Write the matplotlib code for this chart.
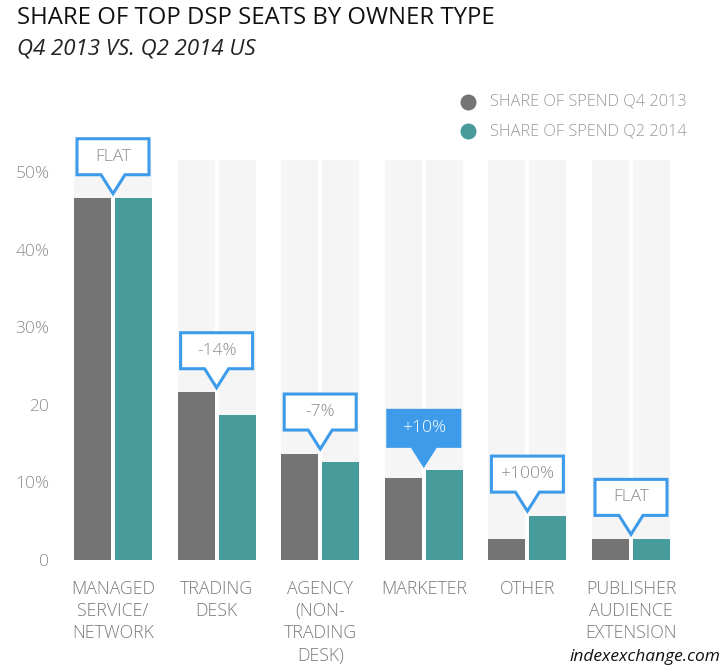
import matplotlib
matplotlib.use("Agg")
import matplotlib.pyplot as plt
import matplotlib.transforms as mtransforms
from matplotlib.patches import Polygon
import numpy as np

plt.rcParams['font.family'] = ['Open Sans', 'DejaVu Sans']

# data
categories = ["MANAGED\nSERVICE/\nNETWORK", "TRADING\nDESK", "AGENCY\n(NON-\nTRADING\nDESK)",
              "MARKETER", "OTHER", "PUBLISHER\nAUDIENCE\nEXTENSION"]
series_names = ["SHARE OF SPEND Q4 2013", "SHARE OF SPEND Q2 2014"]
q4_2013 = [46.6, 21.6, 13.7, 10.6, 2.7, 2.7]
q2_2014 = [46.6, 18.7, 12.6, 11.6, 5.7, 2.7]
changes = ["FLAT", "-14%", "-7%", "+10%", "+100%", "FLAT"]
highlight = [False, False, False, True, False, False]
y_ticks = [0, 10, 20, 30, 40, 50]
y_tick_labels = ["0", "10%", "20", "30%", "40%", "50%"]
background_level = 51.5

GRAY = "#747474"
TEAL = "#479b9b"
BG = "#f5f5f5"
BLUE = "#3d9be9"
TXT = "#8c8c8c"

fig = plt.figure(figsize=(7.28, 6.72), dpi=100)
ax = fig.add_axes([61.2 / 728, 112 / 672, 621.6 / 728, 426.8 / 672])

x = np.arange(len(categories))
offset = 0.198
width = 0.357

ax.bar(x - offset, [background_level] * len(x), width, color=BG, zorder=1)
ax.bar(x + offset, [background_level] * len(x), width, color=BG, zorder=1)
ax.bar(x - offset, q4_2013, width, color=GRAY, zorder=2)
ax.bar(x + offset, q2_2014, width, color=TEAL, zorder=2)

ax.set_xlim(-0.5, len(categories) - 0.5)
ax.set_ylim(0, 55)
ax.set_yticks(y_ticks)
ax.set_yticklabels(y_tick_labels, color=TXT, fontsize=12.5, fontweight='light')
ax.tick_params(axis='y', length=0, pad=8.5)
ax.set_xticks([])
for s in ax.spines.values():
    s.set_visible(False)

# category labels under each pair
for i, lab in enumerate(categories):
    ax.annotate(lab, xy=(i, 0), xycoords=('data', 'axes fraction'),
                xytext=(0, -20), textcoords='offset pixels', ha='center', va='top',
                fontsize=12.8, color="#7a7a7a", fontweight='light', linespacing=1.3)

# callout boxes
px = 1 / 100.0
hw, bh, pw, ph = 36, 36, 12, 19
verts = np.array([(0, 0), (-pw, ph), (-hw, ph), (-hw, ph + bh), (hw, ph + bh),
                  (hw, ph), (pw, ph)]) * px
for i, (a, b) in enumerate(zip(q4_2013, q2_2014)):
    tip_y = max(a, b) + 0.6
    tr = fig.dpi_scale_trans + mtransforms.ScaledTranslation(i, tip_y, ax.transData)
    filled = highlight[i]
    poly = Polygon(verts, closed=True, transform=tr, facecolor=BLUE if filled else "white",
                   edgecolor=BLUE, linewidth=2.2, joinstyle='miter', zorder=5, clip_on=False)
    ax.add_artist(poly)
    ax.text(0, (ph + bh / 2) * px, changes[i], transform=tr, ha='center', va='center',
            fontsize=12.5, fontweight='light', color="white" if filled else TXT,
            zorder=6, clip_on=False)

# legend
for k, (name, col) in enumerate(zip(series_names, [GRAY, TEAL])):
    yy = 1 - (102 + 29 * k) / 672
    ax.plot([468 / 728], [yy], 'o', ms=10.5, color=col, transform=fig.transFigure, clip_on=False)
    fig.text(490 / 728, yy, name, ha='left', va='center', fontsize=11.8,
             fontweight='light', color="#999999")

fig.text(17 / 728, 1 - 18 / 672, "SHARE OF TOP DSP SEATS BY OWNER TYPE", ha='left', va='center',
         fontsize=17.2, color="#111111", fontweight='medium')
fig.text(17 / 728, 1 - 49 / 672, "Q4 2013 VS. Q2 2014 US", ha='left', va='center',
         fontsize=16, style='italic', color="#222222")
fig.text(720 / 728, 1 - 657 / 672, "indexexchange.com", ha='right', va='center',
         fontsize=12.5, style='italic', fontweight='medium', color="#111111")

fig.savefig("out.png", dpi=100)
